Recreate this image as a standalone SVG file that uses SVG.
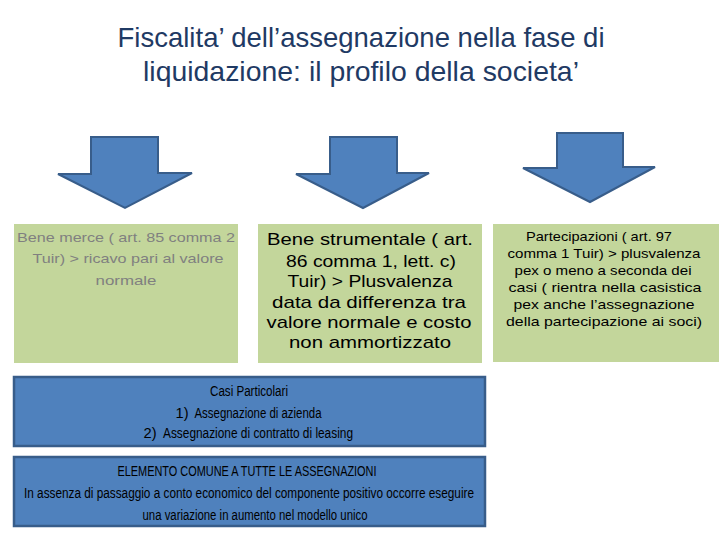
<svg xmlns="http://www.w3.org/2000/svg" width="720" height="540" viewBox="0 0 720 540">
<style>
text{font-family:"Liberation Sans",Arial,sans-serif;text-anchor:middle}
.title{font-size:28px;fill:#1F3A64}
.arrow{fill:#4F81BD;stroke:#385D8A;stroke-width:2;stroke-linejoin:miter}
.green{fill:#C3D69B}
.blue{fill:#4F81BD;stroke:#385D8A;stroke-width:2.5}
.t1{font-size:13.5px;fill:#808080}
.t2{font-size:17px;fill:#000}
.t3{font-size:13.5px;fill:#000}
.tb{font-size:14px;fill:#000}
</style>
<rect width="720" height="540" fill="#fff"/>
<g id="title">
<text class="title" x="361" y="47" textLength="487" lengthAdjust="spacingAndGlyphs">Fiscalita’ dell’assegnazione nella fase di</text>
<text class="title" x="361" y="81" textLength="436" lengthAdjust="spacingAndGlyphs">liquidazione: il profilo della societa’</text>
</g>
<g id="connectors">
<path class="arrow" d="M91,137 H158 V173 H192 L125,208 L58,174 H91 Z"/>
<path class="arrow" d="M330,137 H397 V173 H429 L363,208 L296,174 H330 Z"/>
<path class="arrow" d="M557,133 H623 V167 H655 L590,202 L523,168 H557 Z"/>
</g>
<g id="node-merce">
<rect class="green" x="14" y="224" width="224" height="139"/>
<text class="t1" x="126" y="242" textLength="218" lengthAdjust="spacingAndGlyphs">Bene merce ( art. 85 comma 2</text>
<text class="t1" x="128" y="263" textLength="191" lengthAdjust="spacingAndGlyphs">Tuir) &gt; ricavo pari al valore</text>
<text class="t1" x="126" y="285" textLength="61" lengthAdjust="spacingAndGlyphs">normale</text>
</g>
<g id="node-strumentale">
<rect class="green" x="258" y="224" width="224" height="139"/>
<text class="t2" x="370" y="245" textLength="206" lengthAdjust="spacingAndGlyphs">Bene strumentale ( art.</text>
<text class="t2" x="371" y="267" textLength="170" lengthAdjust="spacingAndGlyphs">86 comma 1, lett. c)</text>
<text class="t2" x="370" y="287" textLength="165" lengthAdjust="spacingAndGlyphs">Tuir) &gt; Plusvalenza</text>
<text class="t2" x="369" y="308" textLength="194" lengthAdjust="spacingAndGlyphs">data da differenza tra</text>
<text class="t2" x="369" y="328" textLength="205" lengthAdjust="spacingAndGlyphs">valore normale e costo</text>
<text class="t2" x="370" y="348" textLength="162" lengthAdjust="spacingAndGlyphs">non ammortizzato</text>
</g>
<g id="node-partecipazioni">
<rect class="green" x="493" y="224" width="226" height="138"/>
<text class="t3" x="599" y="241" textLength="146" lengthAdjust="spacingAndGlyphs">Partecipazioni ( art. 97</text>
<text class="t3" x="604" y="258" textLength="193" lengthAdjust="spacingAndGlyphs">comma 1 Tuir) &gt; plusvalenza</text>
<text class="t3" x="603" y="275" textLength="177" lengthAdjust="spacingAndGlyphs">pex o meno a seconda dei</text>
<text class="t3" x="605" y="292" textLength="193" lengthAdjust="spacingAndGlyphs">casi ( rientra nella casistica</text>
<text class="t3" x="604" y="309" textLength="181" lengthAdjust="spacingAndGlyphs">pex anche l’assegnazione</text>
<text class="t3" x="604" y="326" textLength="196" lengthAdjust="spacingAndGlyphs">della partecipazione ai soci)</text>
</g>
<g id="node-casi">
<rect class="blue" x="14" y="377" width="471" height="69"/>
<text class="tb" x="249" y="396" textLength="78" lengthAdjust="spacingAndGlyphs">Casi Particolari</text>
<text class="tb" x="182" y="418" textLength="13" lengthAdjust="spacingAndGlyphs">1)</text>
<text class="tb" x="258" y="418" textLength="127" lengthAdjust="spacingAndGlyphs">Assegnazione di azienda</text>
<text class="tb" x="150" y="438" textLength="13" lengthAdjust="spacingAndGlyphs">2)</text>
<text class="tb" x="258" y="438" textLength="190" lengthAdjust="spacingAndGlyphs">Assegnazione di contratto di leasing</text>
</g>
<g id="node-elemento">
<rect class="blue" x="14" y="457" width="471" height="69"/>
<text class="tb" x="247" y="476" textLength="259" lengthAdjust="spacingAndGlyphs">ELEMENTO COMUNE A TUTTE LE ASSEGNAZIONI</text>
<text class="tb" x="249" y="498" textLength="450" lengthAdjust="spacingAndGlyphs">In assenza di passaggio a conto economico del componente positivo occorre eseguire</text>
<text class="tb" x="255" y="520" textLength="225" lengthAdjust="spacingAndGlyphs">una variazione in aumento nel modello unico</text>
</g>
</svg>
